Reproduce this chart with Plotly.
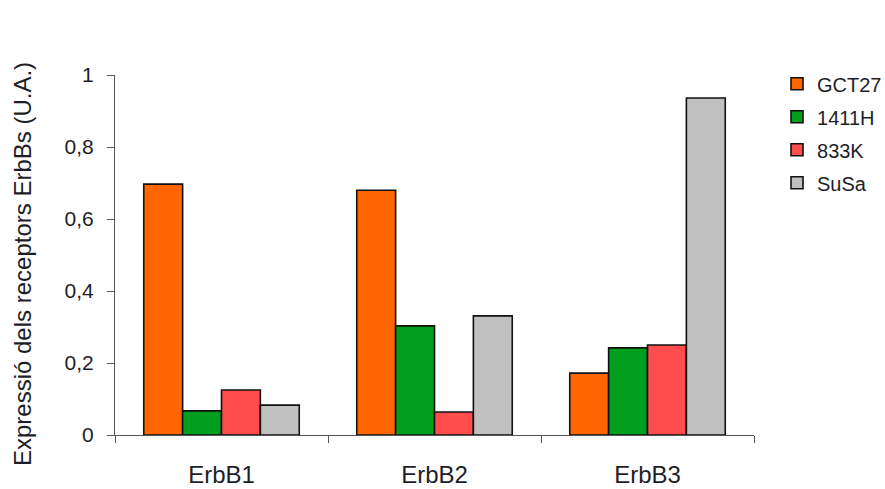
import plotly.graph_objects as go

categories = ["ErbB1", "ErbB2", "ErbB3"]
series_names = ["GCT27", "1411H", "833K", "SuSa"]
gct27 = [0.697, 0.680, 0.172]
h1411 = [0.067, 0.303, 0.242]
k833 = [0.125, 0.064, 0.250]
susa = [0.083, 0.331, 0.936]
colors = ["#FF6600", "#00A01E", "#FF4D4D", "#C0C0C0"]
y_title = "Expressió dels receptors ErbBs (U.A.)"

values = [gct27, h1411, k833, susa]

fig = go.Figure()
for name, vals, col in zip(series_names, values, colors):
    fig.add_trace(go.Bar(
        x=categories, y=vals, name=name, legendgroup=name,
        marker=dict(color=col, line=dict(color="#111111", width=1.6)),
    ))

fig.update_layout(
    width=885, height=489,
    margin=dict(l=115, r=131, t=75, b=54, autoexpand=False),
    paper_bgcolor="white", plot_bgcolor="white",
    barmode="group", bargap=0.27, bargroupgap=0,
    separators=",.",
    font=dict(family="Liberation Sans, Arial, sans-serif", color="#1E1E28"),
    legend=dict(
        x=1.036, y=1.03, xanchor="left", yanchor="top",
        font=dict(size=20, color="#1E1E28"),
        tracegroupgap=4, itemwidth=30,
    ),
    showlegend=True,
    annotations=[dict(
        text=y_title, textangle=-90, xref="paper", yref="paper",
        x=-0.1455, y=0.475, xanchor="center", yanchor="middle",
        showarrow=False, font=dict(size=24, color="#1E1E28"),
    )],
)
fig.update_yaxes(
    range=[0, 1], dtick=0.2, tick0=0, automargin=False,
    showgrid=False, zeroline=False,
    showline=True, linecolor="#555555", linewidth=1,
    ticks="outside", ticklen=7, tickcolor="#555555",
    ticklabelstandoff=9,
    tickfont=dict(size=21, color="#1E1E28"),
)
fig.update_xaxes(
    automargin=False,
    showgrid=False, showline=True, linecolor="#555555", linewidth=1,
    ticks="outside", ticklen=7, tickcolor="#555555", tickson="boundaries",
    ticklabelstandoff=18,
    tickfont=dict(size=24, color="#1E1E28"),
)

fig.write_html("out.html", config={"displayModeBar": False},
               post_script="document.body.style.margin='0';")
